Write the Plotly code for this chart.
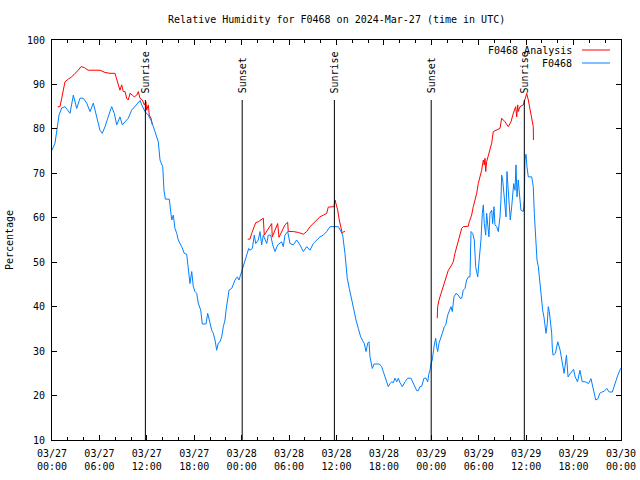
import pandas as pd
import plotly.graph_objects as go

BASE = pd.Timestamp("2024-03-27 00:00")

# ---- data (hours after 2024-03-27 00:00 UTC, relative humidity %) ----
analysis_hours = [
    0.72, 1.01, 1.23, 1.64, 2.06, 2.49, 2.91, 3.33, 3.67, 4.09, 4.59, 5.44, 6.07, 6.71,
    7.34, 7.97, 8.19, 8.48, 8.60, 8.82, 9.02, 9.24, 9.45, 9.65, 9.87, 10.16, 10.41, 10.72,
    10.92, 11.13, 11.43, 11.68, 11.89, 11.98, 12.19, 12.31, 12.53, 12.69,
    None,
    24.76, 25.05, 25.27, 25.47, 25.78, 26.10, 26.45, 26.74, 26.86, 27.17, 27.58, 27.80,
    27.87, 28.22, 28.56, 28.72, 29.06, 29.48, 29.82, 29.90, 30.53, 31.17, 31.80, 32.23,
    32.65, 33.06, 33.49, 33.91, 34.33, 34.76, 34.96, 35.39, 35.68, 35.81, 35.94, 36.15,
    36.35, 36.57, 36.73, 36.91, 37.07,
    None,
    48.75, 48.80, 48.97, 49.22, 49.51, 49.82, 50.15, 50.58, 50.78, 50.99, 51.21, 51.41,
    51.63, 51.84, 52.04, 52.68, 52.80, 53.10, 53.31, 53.52, 53.74, 53.94, 54.16, 54.37,
    54.58, 54.70, 54.79, 54.88, 55.00, 55.21, 55.42, 55.64, 55.84, 56.27, 56.69, 56.90,
    57.32, 57.74, 58.08, 58.37, 58.67, 58.80, 58.93, 59.00, 59.22, 59.64, 59.85, 60.07,
    60.27, 60.49, 60.70, 60.90, 60.92,
]
analysis_rh = [
    85.0, 85.0, 86.9, 90.6, 91.2, 91.7, 92.5, 93.2, 94.0, 93.8, 93.2, 93.2, 93.2, 92.7,
    92.5, 92.5, 91.0, 89.1, 88.7, 89.9, 88.4, 88.4, 86.9, 86.5, 88.0, 87.6, 87.2, 87.6,
    88.4, 86.9, 86.5, 85.4, 86.1, 84.2, 85.4, 83.1, 82.4, 80.9,
    None,
    55.2, 55.2, 56.5, 57.6, 58.9, 59.1, 59.5, 59.9, 56.1, 56.9, 58.0, 58.7,
    55.7, 57.2, 58.7, 55.6, 56.9, 58.4, 59.0, 56.9, 56.9, 56.7, 56.3, 56.9,
    58.0, 58.7, 59.5, 60.2, 60.6, 61.0, 62.4, 62.4, 62.5, 64.0, 63.3, 61.7,
    59.5, 58.0, 56.5, 56.9, 56.9,
    None,
    37.4, 40.0, 41.5, 43.0, 44.5, 46.7, 48.2, 49.4, 50.1, 52.0, 53.5, 55.0,
    56.5, 57.6, 58.0, 58.1, 59.1, 60.6, 62.5, 64.0, 65.5, 67.7, 69.2, 70.7,
    73.0, 71.9, 73.4, 70.4, 72.6, 74.1, 75.6, 76.8, 79.4, 79.7, 80.1, 82.4,
    81.6, 80.5, 81.6, 83.5, 85.0, 82.7, 85.4, 83.9, 85.0, 85.4, 86.9, 88.0,
    86.5, 84.2, 82.4, 80.5, 77.5,
]

obs_hours = [
    0.00, 0.38, 0.89, 1.23, 1.64, 2.06, 2.28, 2.70, 3.13, 3.54, 3.96, 4.39, 4.81, 5.23,
    5.66, 6.07, 6.36, 6.71, 7.05, 7.55, 7.88, 8.19, 8.60, 8.90, 9.24, 9.65, 10.08, 10.50,
    10.92, 11.15, 11.35, 11.77, 12.19, 12.62, 13.03, 13.45, 13.67, 14.01, 14.17, 14.34,
    14.84, 15.02, 15.15, 15.35, 15.56, 15.78, 15.98, 16.41, 16.74, 17.04, 17.25, 17.46,
    17.68, 17.88, 18.09, 18.31, 18.51, 18.82, 19.02, 19.49, 19.70, 19.99, 20.21, 20.41,
    20.63, 20.84, 21.04, 21.26, 21.47, 21.68, 21.89, 22.02, 22.18, 22.40, 22.74, 23.16,
    23.45, 23.66, 24.00, 24.29, 24.55, 24.71, 24.89, 25.05, 25.35, 25.60, 25.78, 26.10,
    26.32, 26.53, 26.74, 26.95, 27.17, 27.37, 27.67, 27.93, 28.22, 28.56, 28.85, 29.06,
    29.27, 29.48, 29.82, 30.12, 30.53, 30.96, 31.38, 31.80, 32.23, 32.65, 33.06, 33.49,
    33.91, 34.33, 34.76, 35.18, 35.81, 36.23, 36.57, 36.78, 37.07, 37.20, 37.36, 37.62,
    37.92, 38.21, 38.47, 38.76, 39.06, 39.39, 39.52, 39.73, 39.95, 40.11, 40.24, 40.53,
    40.74, 41.42, 41.72, 41.92, 42.23, 42.55, 42.77, 42.98, 43.19, 43.40, 43.62, 43.82,
    44.03, 44.33, 44.67, 45.01, 45.43, 45.72, 45.93, 46.15, 46.35, 46.56, 46.78, 47.07,
    47.32, 47.54, 47.70, 47.83, 47.96, 48.12, 48.34, 48.55, 48.68, 48.80, 48.97, 49.18,
    49.39, 49.64, 49.82, 50.07, 50.27, 50.49, 50.65, 50.87, 51.12, 51.41, 51.63, 51.84,
    52.04, 52.26, 52.47, 52.68, 52.89, 53.02, 53.23, 53.44, 53.61, 53.74, 53.87, 54.03,
    54.16, 54.28, 54.45, 54.58, 54.70, 54.88, 55.00, 55.13, 55.29, 55.42, 55.64, 55.76,
    55.93, 56.05, 56.27, 56.47, 56.69, 56.81, 56.90, 57.03, 57.15, 57.32, 57.45, 57.57,
    57.74, 57.86, 57.99, 58.17, 58.29, 58.42, 58.59, 58.71, 58.84, 59.00, 59.22, 59.34,
    59.64, 59.76, 59.85, 59.98, 60.10, 60.27, 60.70, 60.90, 61.03, 61.21, 61.37, 61.54,
    61.75, 61.96, 62.09, 62.25, 62.38, 62.51, 62.67, 62.80, 62.93, 63.10, 63.23, 63.31,
    63.40, 63.70, 64.00, 64.30, 64.60, 64.80, 65.10, 65.30, 65.60, 66.00, 66.20, 66.50,
    66.80, 67.10, 67.50, 67.90, 68.20, 68.40, 68.60, 68.80, 69.10, 69.30, 69.60, 69.90,
    70.20, 70.50, 70.90, 71.10, 71.40, 71.60, 71.90, 72.00,
]
obs_rh = [
    75.2, 76.8, 83.1, 84.7, 85.0, 83.9, 83.5, 87.6, 84.6, 86.9, 86.9, 85.8, 83.9, 85.8,
    82.7, 79.7, 79.0, 80.5, 82.4, 85.0, 83.5, 80.9, 82.7, 80.9, 81.6, 82.4, 84.2, 85.0,
    85.8, 86.4, 85.4, 83.9, 83.1, 81.6, 79.4, 77.1, 73.0, 71.5, 66.2, 64.2,
    64.2, 61.0, 59.5, 60.6, 57.6, 56.5, 55.0, 53.5, 52.0, 51.8, 48.2, 45.2,
    47.9, 44.5, 43.4, 43.0, 40.8, 39.2, 36.1, 36.1, 38.5, 36.2, 34.7, 34.0,
    32.5, 30.2, 31.8, 32.1, 33.2, 35.5, 37.0, 39.2, 41.5, 43.7, 44.1, 46.0,
    46.7, 46.0, 47.9, 49.7, 51.6, 52.0, 53.1, 52.7, 53.1, 56.1, 54.2, 55.0,
    56.9, 53.9, 56.1, 55.0, 54.2, 56.1, 56.1, 53.9, 52.4, 53.9, 54.2, 54.6,
    53.5, 56.1, 56.9, 54.2, 53.9, 55.0, 53.9, 52.4, 53.5, 52.7, 54.2, 55.0,
    55.7, 56.1, 56.9, 58.0, 58.1, 58.0, 56.9, 56.1, 52.0, 49.0, 46.4, 44.1,
    41.5, 39.2, 37.0, 35.1, 33.2, 32.1, 31.7, 29.9, 31.8, 32.1, 28.7, 26.1,
    27.1, 27.1, 26.5, 25.4, 23.9, 22.0, 22.7, 23.1, 22.9, 23.9, 23.1, 23.9,
    22.9, 22.0, 23.1, 23.9, 23.9, 22.9, 22.0, 21.1, 21.1, 22.0, 22.1, 23.9,
    23.9, 23.1, 25.0, 25.7, 27.2, 28.0, 31.0, 32.9, 31.0, 29.9, 31.8, 33.2,
    34.0, 35.5, 35.9, 38.1, 39.2, 40.0, 38.9, 42.2, 43.0, 42.6, 41.9, 41.9,
    43.7, 44.1, 46.0, 46.7, 46.7, 56.9, 56.5, 55.0, 49.0, 47.9, 46.7, 50.1,
    52.7, 55.0, 61.0, 62.9, 58.7, 56.1, 61.0, 58.7, 55.7, 61.0, 61.7, 58.7,
    62.5, 58.4, 58.0, 56.9, 60.2, 64.0, 69.6, 68.5, 65.5, 63.3, 60.2, 70.4,
    64.7, 62.1, 59.5, 62.5, 66.2, 67.7, 66.2, 71.9, 64.7, 68.5, 64.0, 61.7,
    61.4, 64.0, 73.0, 74.3, 71.5, 69.2, 69.2, 67.0, 61.0, 55.0, 50.5, 49.0,
    44.9, 40.7, 39.2, 37.7, 35.5, 34.0, 36.2, 40.0, 38.9, 36.2, 34.0, 30.6,
    29.1, 29.5, 32.1, 30.2, 27.2, 25.0, 29.1, 24.2, 25.0, 25.9, 24.2, 23.1,
    25.7, 23.1, 23.1, 22.7, 23.8, 22.0, 20.1, 19.0, 19.3, 20.5, 20.8, 21.0,
    21.6, 20.8, 20.8, 22.0, 23.5, 24.6, 25.9, 26.2,
]

event_times = ["2024-03-27 11:49", "2024-03-28 00:04", "2024-03-28 11:44",
               "2024-03-28 23:59", "2024-03-29 11:46"]
event_labels = ["Sunrise", "Sunset", "Sunrise", "Sunset", "Sunrise"]

tick_hours = [0, 6, 12, 18, 24, 30, 36, 42, 48, 54, 60, 66, 72]
tick_labels = ["03/27<br>00:00", "03/27<br>06:00", "03/27<br>12:00", "03/27<br>18:00",
               "03/28<br>00:00", "03/28<br>06:00", "03/28<br>12:00", "03/28<br>18:00",
               "03/29<br>00:00", "03/29<br>06:00", "03/29<br>12:00", "03/29<br>18:00",
               "03/30<br>00:00"]
minor_hours = [h for h in range(0, 73, 2) if h % 6 != 0]

series_names = ["F0468 Analysis", "F0468"]
series_colors = ["#ff0000", "#0080ff"]


def to_time(hours):
    return [None if h is None else BASE + pd.Timedelta(hours=h) for h in hours]


FONT = "DejaVu Sans Mono"
fig = go.Figure()

fig.add_trace(go.Scatter(x=to_time(analysis_hours), y=analysis_rh, mode="lines",
                         name=series_names[0], line=dict(color=series_colors[0], width=1),
                         connectgaps=False, showlegend=False))
fig.add_trace(go.Scatter(x=to_time(obs_hours), y=obs_rh, mode="lines",
                         name=series_names[1], line=dict(color=series_colors[1], width=1),
                         showlegend=False))

LINE_TOP = 86.5
for t, lab in zip(event_times, event_labels):
    ts = pd.Timestamp(t)
    fig.add_trace(go.Scatter(x=[ts, ts], y=[10, LINE_TOP], mode="lines",
                             line=dict(color="black", width=1), showlegend=False,
                             hoverinfo="skip"))
    fig.add_annotation(x=ts, y=87.6, xref="x", yref="y", text=lab, textangle=-90,
                       showarrow=False, xanchor="center", yanchor="bottom",
                       font=dict(family=FONT, size=10, color="black"))

# legend drawn manually (text left of sample line, gnuplot style)
leg_y = [0.975, 0.9425]
for name, col, yy in zip(series_names, series_colors, leg_y):
    fig.add_annotation(x=0.9174, y=yy, xref="paper", yref="paper", text=name,
                       showarrow=False, xanchor="right", yanchor="middle",
                       font=dict(family=FONT, size=10, color="black"))
    fig.add_shape(type="line", xref="paper", yref="paper", x0=0.9315, x1=0.9807,
                  y0=yy, y1=yy, line=dict(color=col, width=1))

axis_common = dict(showline=True, linecolor="black", linewidth=1, mirror="allticks",
                   ticks="inside", tickcolor="black", ticklen=5, tickwidth=1,
                   showgrid=False, zeroline=False, automargin=False,
                   tickfont=dict(family=FONT, size=10, color="black"))

fig.update_xaxes(range=[BASE, BASE + pd.Timedelta(hours=72)],
                 tickvals=to_time(tick_hours), ticktext=tick_labels,
                 ticklabelstandoff=4,
                 minor=dict(tickvals=to_time(minor_hours), ticks="inside", ticklen=3,
                            tickcolor="black", showgrid=False),
                 **axis_common)
fig.update_yaxes(range=[10, 100], tickvals=list(range(10, 101, 10)),
                 ticklabelstandoff=4,
                 title=dict(text="Percentage", font=dict(family=FONT, size=10, color="black"),
                            standoff=11),
                 **axis_common)

fig.update_layout(
    width=640, height=480,
    margin=dict(l=52, r=19, t=40, b=40),
    paper_bgcolor="white", plot_bgcolor="white",
    title=dict(text="Relative Humidity for F0468 on 2024-Mar-27 (time in UTC)",
               x=0.526, xanchor="center", y=0.96, yanchor="middle",
               font=dict(family=FONT, size=10, color="black")),
    font=dict(family=FONT, size=10, color="black"),
    showlegend=False,
)

fig.write_html("out.html", config={"displayModeBar": False},
               post_script="document.body.style.margin='0';")
